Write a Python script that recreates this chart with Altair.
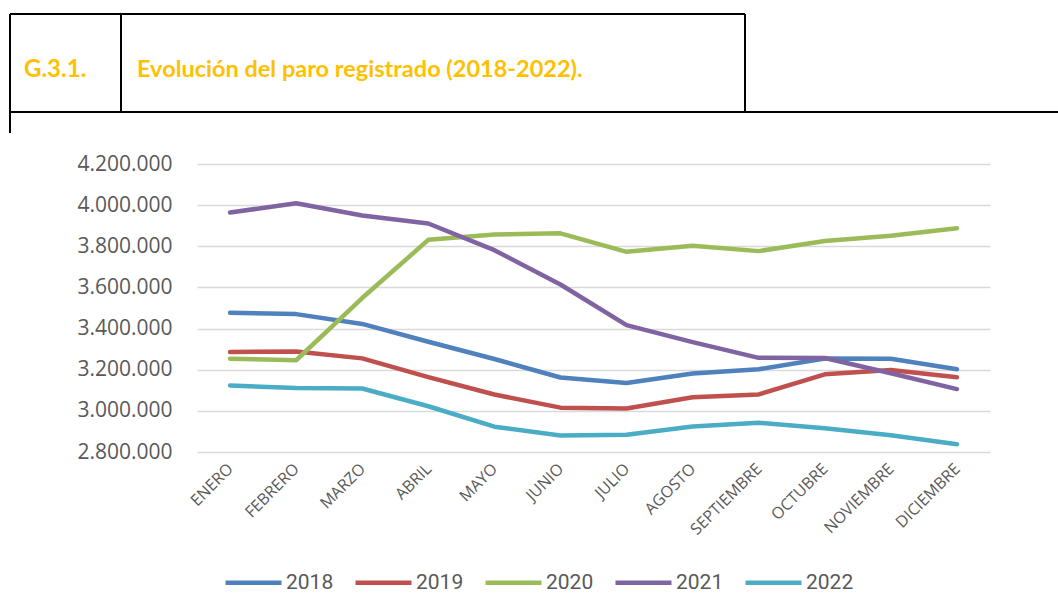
import altair as alt
import pandas as pd

meses = ["ENERO", "FEBRERO", "MARZO", "ABRIL", "MAYO", "JUNIO", "JULIO",
         "AGOSTO", "SEPTIEMBRE", "OCTUBRE", "NOVIEMBRE", "DICIEMBRE"]
anios = ["2018", "2019", "2020", "2021", "2022"]
colores = ["#4F81BD", "#C0504D", "#9BBB59", "#8064A2", "#4BACC6"]

paro_2018 = [3476528, 3470248, 3422551, 3335868, 3252130, 3162162,
             3135021, 3182068, 3202509, 3254063, 3252867, 3202297]
paro_2019 = [3285761, 3289040, 3255084, 3163566, 3079491, 3015686,
             3011433, 3065804, 3079711, 3177659, 3198184, 3163605]
paro_2020 = [3253853, 3246047, 3548312, 3831203, 3857776, 3862883,
             3773034, 3802814, 3776485, 3826043, 3851312, 3888137]
paro_2021 = [3964353, 4008789, 3949640, 3910628, 3781250, 3614339,
             3416498, 3333915, 3257802, 3257068, 3182687, 3105905]
paro_2022 = [3123078, 3111684, 3108763, 3022503, 2922911, 2880582,
             2883812, 2924240, 2941919, 2914892, 2881380, 2837653]
y_ticks = [2800000, 3000000, 3200000, 3400000, 3600000, 3800000, 4000000, 4200000]

series = [paro_2018, paro_2019, paro_2020, paro_2021, paro_2022]
rows = []
for a, vals in zip(anios, series):
    for m, v in zip(meses, vals):
        rows.append({"mes": m, "anio": a, "valor": v})
df = pd.DataFrame(rows)

lines = alt.Chart(df).mark_line(strokeWidth=4.5, strokeCap="round", strokeJoin="round").encode(
    x=alt.X("mes:N", sort=meses,
            scale=alt.Scale(type="point", padding=0.5),
            axis=alt.Axis(title=None, labelAngle=-45, labelAlign="right", labelBaseline="middle",
                          labelPadding=14, ticks=False, domain=False, grid=False,
                          labelFontSize=16, labelColor="#595959", labelFont="Open Sans")),
    y=alt.Y("valor:Q", scale=alt.Scale(domain=[2800000, 4200000], nice=False, zero=False),
            axis=alt.Axis(title=None, values=y_ticks,
                          labelExpr="replace(format(datum.value, ',d'), /,/g, '.')",
                          grid=True, gridColor="#D9D9D9", gridWidth=1.5, domain=False, ticks=False,
                          labelPadding=25, labelFontSize=21, labelColor="#595959",
                          labelFont="Open Sans")),
    color=alt.Color("anio:N", scale=alt.Scale(domain=anios, range=colores),
                    legend=alt.Legend(title=None, orient="none", legendX=26, legendY=388,
                                      direction="horizontal", symbolType="stroke",
                                      symbolSize=3136, symbolStrokeWidth=4.5,
                                      labelFontSize=21, labelFont="Roboto",
                                      labelColor="#595959", labelOffset=2, columnPadding=12)),
)

one = pd.DataFrame({"k": [0]})

def rule(x1, x2, y1, y2):
    return alt.Chart(one).mark_rule(color="black", strokeWidth=2).encode(
        x=alt.value(x1), x2=alt.value(x2), y=alt.value(y1), y2=alt.value(y2))

rules = [
    rule(-187, 548, -150, -150),
    rule(-187, 861, -52, -52),
    rule(-187, -187, -150, -31),
    rule(-76, -76, -150, -52),
    rule(548, 548, -150, -52),
]

t1 = alt.Chart(one).mark_text(align="left", baseline="middle", font="Lato", fontWeight="bold",
                              fontSize=24, color="#FFC000").encode(
    x=alt.value(-173), y=alt.value(-94), text=alt.value("G.3.1."))
t2 = alt.Chart(one).mark_text(align="left", baseline="middle", font="Lato", fontWeight="bold",
                              fontSize=23.5, color="#FFC000").encode(
    x=alt.value(-60), y=alt.value(-94), text=alt.value("Evolución del paro registrado (2018-2022)."))

chart = alt.layer(lines, *rules, t1, t2).properties(
    width=793, height=288,
    autosize=alt.AutoSizeParams(type="none"),
    padding={"left": 197, "top": 164, "right": 68, "bottom": 143},
).configure_view(stroke=None)

chart.save("out.html", embed_options={"renderer": "svg", "actions": False})
